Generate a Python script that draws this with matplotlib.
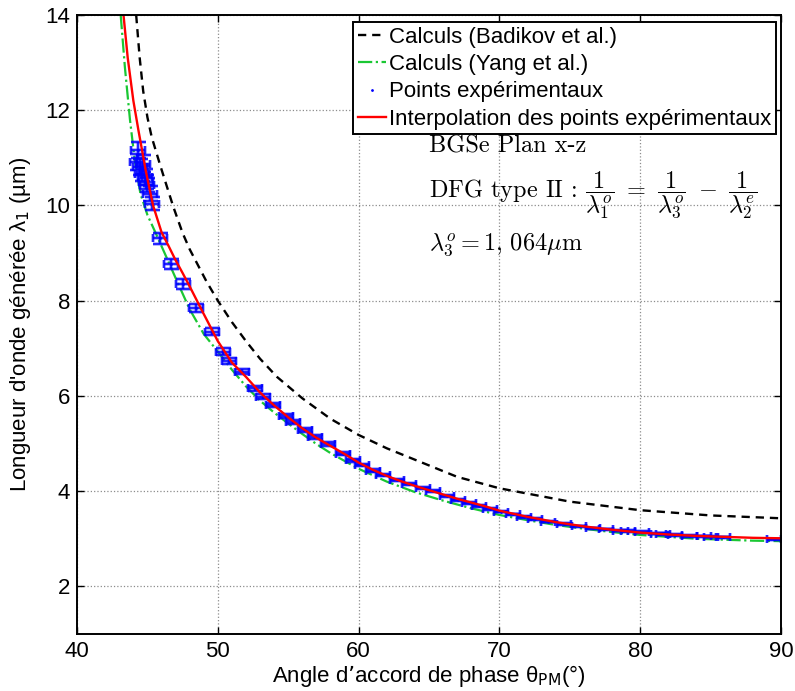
import matplotlib
matplotlib.use("Agg")
import matplotlib.pyplot as plt

plt.rcParams['font.family'] = ['Liberation Sans', 'DejaVu Sans']
plt.rcParams['mathtext.fontset'] = 'dejavusans'

# Courbes calculees (angle en degres, longueur d'onde en um)
theta_badikov = [44.2, 44.45, 44.7, 45.0, 45.3, 45.9, 46.4, 46.84, 47.5, 48.0, 49.2, 50.0,
                 51.0, 52.0, 53.0, 54.2, 56.0, 58.0, 60.0, 62.0, 64.5, 67.0,
                 70.0, 75.0, 80.0, 85.0, 90.0]
lam_badikov = [14.0, 13.1, 12.4, 11.85, 11.44, 10.85, 10.38, 9.97, 9.42, 9.08, 8.40, 8.0,
               7.55, 7.15, 6.78, 6.40, 5.95, 5.52, 5.18, 4.90, 4.60, 4.30,
               4.06, 3.78, 3.60, 3.49, 3.43]

theta_yang = [43.1, 43.4, 43.76, 44.1, 44.5, 45.0, 45.54, 46.25, 47.07, 48.0, 49.0,
              50.0, 51.0, 52.0, 53.0, 54.0, 55.0, 56.0, 57.0, 58.0, 60.0, 62.0,
              64.0, 66.0, 68.0, 70.0, 72.0, 74.0, 76.0, 78.0, 80.0, 82.0, 84.0,
              86.0, 88.0, 90.0]
lam_yang = [14.0, 12.9, 11.8, 10.95, 10.25, 9.8, 9.45, 8.98, 8.43, 7.82, 7.3,
            6.93, 6.55, 6.2, 5.9, 5.65, 5.42, 5.2, 4.99, 4.8, 4.47, 4.2,
            3.98, 3.8, 3.64, 3.5, 3.39, 3.29, 3.21, 3.14, 3.08, 3.04, 3.0,
            2.98, 2.96, 2.95]

theta_interp = [43.3, 43.6, 44.0, 44.36, 44.9, 45.4, 46.0, 46.5, 47.0, 47.5, 48.0,
                49.0, 50.0, 51.0, 52.0, 53.0, 54.0, 55.0, 56.0, 57.0, 58.0, 59.0,
                60.0, 61.0, 62.0, 63.0, 64.0, 65.0, 66.0, 67.0, 68.0, 69.0, 70.0,
                72.0, 74.0, 76.0, 78.0, 80.0, 82.0, 84.0, 86.0, 88.0, 90.0]
lam_interp = [14.0, 13.1, 12.2, 11.58, 10.7, 10.0, 9.44, 9.15, 8.85, 8.58, 8.3,
              7.72, 7.15, 6.7, 6.4, 6.07, 5.8, 5.55, 5.32, 5.12, 4.95, 4.78,
              4.6, 4.45, 4.32, 4.21, 4.11, 4.02, 3.93, 3.84, 3.76, 3.68, 3.59,
              3.46, 3.35, 3.26, 3.19, 3.13, 3.09, 3.06, 3.04, 3.02, 3.01]

# Points experimentaux
theta_exp = [44.36, 44.24, 44.47, 44.71, 44.59, 44.83, 44.90, 44.95, 45.18, 45.30,
             45.90, 46.65, 47.55, 48.48, 49.57, 50.39, 50.82, 51.70, 52.64, 53.23,
             53.94, 54.84, 55.36, 56.19, 56.90, 57.85, 58.91, 59.62, 60.22, 61.00,
             61.76, 62.71, 63.60, 64.60, 65.31, 66.26, 67.09, 67.87, 68.58, 69.34,
             70.09, 70.95, 71.75, 72.53, 73.47, 74.59, 75.67, 76.67, 77.60, 78.60,
             79.10, 80.10, 81.30, 81.60, 82.50, 83.50, 84.50, 85.00, 85.90, 89.50]
lam_exp = [11.16, 10.92, 10.81, 10.88, 10.67, 10.60, 10.50, 10.43, 10.25, 10.04,
           9.31, 8.77, 8.35, 7.84, 7.35, 6.93, 6.74, 6.51, 6.16, 5.98,
           5.81, 5.58, 5.46, 5.28, 5.14, 4.99, 4.79, 4.65, 4.55, 4.43,
           4.34, 4.24, 4.15, 4.07, 4.00, 3.90, 3.82, 3.75, 3.69, 3.63,
           3.57, 3.51, 3.46, 3.41, 3.36, 3.31, 3.26, 3.22, 3.20, 3.17,
           3.16, 3.14, 3.11, 3.10, 3.08, 3.06, 3.05, 3.04, 3.03, 2.99]
theta_err = [0.5] * len(theta_exp)
lam_err = [0.17, 0.17, 0.16, 0.17, 0.16, 0.16, 0.15, 0.15, 0.15, 0.14,
           0.12, 0.11, 0.10, 0.086, 0.076, 0.067, 0.064, 0.059, 0.053, 0.050,
           0.047, 0.044, 0.042, 0.039, 0.037, 0.035, 0.032, 0.030, 0.029, 0.027,
           0.026, 0.025, 0.024, 0.023, 0.022, 0.021, 0.020, 0.020, 0.019, 0.018,
           0.018, 0.017, 0.017, 0.016, 0.016, 0.015, 0.015, 0.015, 0.014, 0.014,
           0.014, 0.014, 0.014, 0.013, 0.013, 0.013, 0.013, 0.013, 0.013, 0.012]

fig = plt.figure(figsize=(7.95, 6.91), dpi=100)
ax = fig.add_axes([0.0969, 0.0825, 0.8855, 0.8958])

green = (0.1, 0.78, 0.2)
l1, = ax.plot(theta_badikov, lam_badikov, '--', color='k', lw=1.7, dashes=(3.5, 2.5),
              label='Calculs (Badikov et al.)')
l2, = ax.plot(theta_yang, lam_yang, '-.', color=green, lw=1.6,
              label='Calculs (Yang et al.)')

# barres d'erreur (halo clair + trait fonce)
for lw, a in [(2.6, 0.35), (1.1, 1.0)]:
    ax.errorbar(theta_exp, lam_exp, yerr=lam_err, fmt='none', ecolor='b',
                elinewidth=lw, capsize=5.4, capthick=lw, alpha=a)
    ax.errorbar(theta_exp, lam_exp, xerr=theta_err, fmt='none', ecolor='b',
                elinewidth=lw, capsize=2.9, capthick=lw, alpha=a)
l3, = ax.plot(theta_exp, lam_exp, '.', color='b', ms=2, label='Points expérimentaux')
l4, = ax.plot(theta_interp, lam_interp, '-', color='r', lw=1.7,
              label='Interpolation des points expérimentaux')

ax.set_xlim(40, 90)
ax.set_ylim(1, 14)
ax.set_xticks([40, 50, 60, 70, 80, 90])
ax.set_yticks([2, 4, 6, 8, 10, 12, 14])
ax.tick_params(direction='in', top=True, right=True, length=5, width=1,
               labelsize=16, pad=5)
ax.grid(True, linestyle=':', color='0.55', lw=0.9)
for s in ax.spines.values():
    s.set_linewidth(1.4)

ax.set_xlabel(r'Angle d’accord de phase θ$_{\mathrm{PM}}$(°)', fontsize=16, labelpad=1)
ax.set_ylabel(r"Longueur d'onde générée λ$_1$ (µm)", fontsize=16, labelpad=9)

leg = ax.legend(handles=[l1, l2, l3, l4], loc='upper right',
                bbox_to_anchor=(0.993, 0.9887), borderaxespad=0, fontsize=16,
                frameon=True, fancybox=False, edgecolor='k', framealpha=1,
                handlelength=1.26, handletextpad=0.15, labelspacing=0.28,
                borderpad=0.22, markerscale=1)
leg.get_frame().set_linewidth(1.4)

ax.text(0.5, 0.787, 'BGSe Plan x-z', transform=ax.transAxes, fontsize=17.5,
        family='cmr10', va='center', ha='left')
ax.text(0.5, 0.709,
        r'DFG type II : $\dfrac{1}{\lambda_1^o}\ =\ \dfrac{1}{\lambda_3^o}\ -\ \dfrac{1}{\lambda_2^e}$',
        transform=ax.transAxes, fontsize=17.5, family='cmr10', math_fontfamily='cm',
        va='center', ha='left')
ax.text(0.5, 0.628, r'$\lambda_3^o = 1,\,064\mu\mathrm{m}$', transform=ax.transAxes,
        fontsize=17.5, math_fontfamily='cm', va='center', ha='left')

fig.savefig('out.png', dpi=100)
